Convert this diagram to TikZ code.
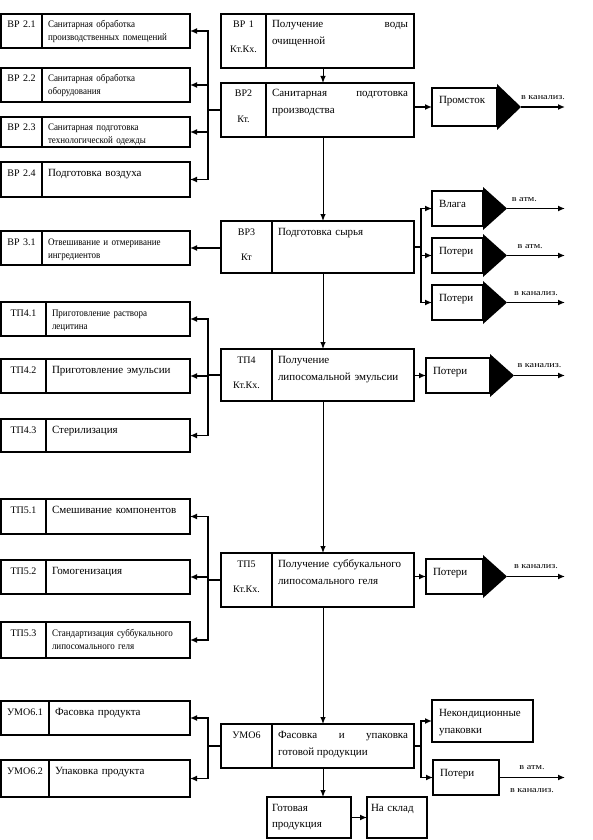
\documentclass[tikz,border=0pt]{standalone}
\usepackage{fontspec}
\setmainfont{Liberation Serif}
\newfontfamily\narrowserif[FakeStretch=0.9]{Liberation Serif}
\newfontfamily\wideserif[FakeStretch=1.2]{Liberation Serif}
\usetikzlibrary{arrows.meta, positioning}

\begin{document}
\begin{tikzpicture}[
    x=1pt, y=-1pt,
    box/.style={
      rectangle,
      draw=black,
      line width=1.6pt,
      outer sep=0pt,
      anchor=north west,
      inner ysep=3pt,
      text height=11pt,
      align=left
    },
    idbox/.style={box, inner xsep=3pt, align=center, font=\fontsize{10}{13}\selectfont},
    smallbox/.style={box, inner xsep=6pt, font=\narrowserif\fontsize{10}{13}\selectfont},
    leftbox/.style={box, inner xsep=6pt, font=\fontsize{11}{13}\selectfont},
    mainbox/.style={box, inner xsep=6pt, align=justify, font=\fontsize{11}{17}\selectfont},
    outbox/.style={box, inner xsep=7pt, text height=13pt, font=\fontsize{11}{17}\selectfont},
    link/.style={line width=1.4pt},
    flow/.style={line width=1.4pt, -{Latex[length=7pt,width=6pt]}},
    spineflow/.style={line width=1pt, -{Latex[length=7pt,width=5.5pt]}},
    where/.style={font=\wideserif\fontsize{8.5}{10}\selectfont, inner sep=1pt}
  ]
    \useasboundingbox (0,0) rectangle (592,840);

    % Left column, ВР 2
    \node[idbox, text width=35pt, text depth=17pt] (vr21) at (1,14) {ВР 2.1};
    \node[smallbox, text width=136pt, text depth=17pt, right=0pt of vr21] (vr21t) {Санитарная обработка\\производственных помещений};
    \node[idbox, text width=35pt, text depth=17pt] (vr22) at (1,68) {ВР 2.2};
    \node[smallbox, text width=136pt, text depth=17pt, right=0pt of vr22] (vr22t) {Санитарная обработка\\оборудования};
    \node[idbox, text width=35pt, text depth=13pt] (vr23) at (1,117) {ВР 2.3};
    \node[smallbox, text width=136pt, text depth=13pt, right=0pt of vr23] (vr23t) {Санитарная подготовка\\технологической одежды};
    \node[idbox, text width=35pt, text depth=18pt] (vr24) at (1,162) {ВР 2.4};
    \node[leftbox, text width=136pt, text depth=18pt, right=0pt of vr24] (vr24t) {Подготовка воздуха};

    % Left column, ВР 3
    \node[idbox, text width=35pt, text depth=17pt] (vr31) at (1,231) {ВР 3.1};
    \node[smallbox, text width=136pt, text depth=17pt, right=0pt of vr31] (vr31t) {Отвешивание и отмеривание\\ингредиентов};

    % Left column, ТП4
    \node[idbox, text width=39pt, text depth=17pt] (tp41) at (1,302) {ТП4.1};
    \node[smallbox, text width=132pt, text depth=17pt, right=0pt of tp41] (tp41t) {Приготовление раствора\\лецитина};
    \node[idbox, text width=39pt, text depth=17pt] (tp42) at (1,359) {ТП4.2};
    \node[leftbox, text width=132pt, text depth=17pt, right=0pt of tp42] (tp42t) {Приготовление эмульсии};
    \node[idbox, text width=39pt, text depth=16pt] (tp43) at (1,419) {ТП4.3};
    \node[leftbox, text width=132pt, text depth=16pt, right=0pt of tp43] (tp43t) {Стерилизация};

    % Left column, ТП5
    \node[idbox, text width=39pt, text depth=18pt] (tp51) at (1,499) {ТП5.1};
    \node[leftbox, text width=132pt, text depth=18pt, right=0pt of tp51] (tp51t) {Смешивание компонентов};
    \node[idbox, text width=39pt, text depth=17pt] (tp52) at (1,560) {ТП5.2};
    \node[leftbox, text width=132pt, text depth=17pt, right=0pt of tp52] (tp52t) {Гомогенизация};
    \node[idbox, text width=39pt, text depth=19pt] (tp53) at (1,622) {ТП5.3};
    \node[smallbox, text width=132pt, text depth=19pt, right=0pt of tp53] (tp53t) {Стандартизация суббукального\\липосомального геля};

    % Left column, УМО6
    \node[idbox, text width=42pt, text depth=17pt] (umo61) at (1,701) {УМО6.1};
    \node[leftbox, text width=129pt, text depth=17pt, right=0pt of umo61] (umo61t) {Фасовка продукта};
    \node[idbox, text width=42pt, text depth=20pt] (umo62) at (1,760) {УМО6.2};
    \node[leftbox, text width=129pt, text depth=20pt, right=0pt of umo62] (umo62t) {Упаковка продукта};

    % Main column
    \node[idbox, text width=39pt, text depth=37pt] (vr1) at (221,14) {ВР 1\\[12pt]Кт.Кх.};
    \node[mainbox, text width=136pt, text depth=37pt, right=0pt of vr1] (vr1t) {Получение воды\linebreak очищенной};
    \node[idbox, text width=39pt, text depth=37pt] (vr2) at (221,83) {ВР2\\[12pt]Кт.};
    \node[mainbox, text width=136pt, text depth=37pt, right=0pt of vr2] (vr2t) {Санитарная подготовка\linebreak производства};
    \node[idbox, text width=45pt, text depth=35pt] (vr3) at (221,221) {ВР3\\[12pt]Кт};
    \node[mainbox, align=left, text width=130pt, text depth=35pt, right=0pt of vr3] (vr3t) {Подготовка сырья};
    \node[idbox, text width=45pt, text depth=35pt] (tp4) at (221,349) {ТП4\\[12pt]Кт.Кх.};
    \node[mainbox, align=left, text width=130pt, text depth=35pt, right=0pt of tp4] (tp4t) {Получение\\липосомальной эмульсии};
    \node[idbox, text width=45pt, text depth=37pt] (tp5) at (221,553) {ТП5\\[12pt]Кт.Кх.};
    \node[mainbox, align=left, text width=130pt, text depth=37pt, right=0pt of tp5] (tp5t) {Получение суббукального\\липосомального геля};
    \node[idbox, text width=45pt, text depth=27pt] (umo6) at (221,724) {УМО6};
    \node[mainbox, text width=130pt, text depth=27pt, right=0pt of umo6] (umo6t) {Фасовка и упаковка\linebreak готовой продукции};

    % Bottom row
    \node[box, inner xsep=5pt, text width=74pt, text depth=24pt, font=\fontsize{11}{16}\selectfont] (gotov) at (267,797) {Готовая\\продукция};
    \node[box, inner xsep=4pt, text width=52pt, text depth=24pt, font=\fontsize{11}{16}\selectfont, right=16pt of gotov] (sklad) {На склад};

    % Right column
    \node[outbox, text width=51pt, text depth=19pt] (prom) at (432,88) {Промсток};
    \node[outbox, text width=37pt, text depth=16pt] (vlaga) at (432,191) {Влага};
    \node[outbox, text width=37pt, text depth=16pt] (pot1) at (432,238) {Потери};
    \node[outbox, text width=37pt, text depth=16pt] (pot2) at (432,285) {Потери};
    \node[outbox, text width=50pt, text depth=16pt] (pot3) at (426,358) {Потери};
    \node[outbox, text width=43pt, text depth=16pt] (pot4) at (426,559) {Потери};
    \node[outbox, text width=87pt, text depth=23pt] (nekond) at (432,700) {Некондиционные\\упаковки};
    \node[outbox, text width=52pt, text depth=16pt] (pot5) at (433,760) {Потери};

    \coordinate (lbus) at (208,0);
    \coordinate (rbus) at (421,0);
    \coordinate (spine) at (323,0);
    \coordinate (outend) at (565,0);

    % Connections: main line
    \draw[spineflow] (vr1t.south -| spine) -- (vr2t.north -| spine);
    \draw[spineflow] (vr2t.south -| spine) -- (vr3t.north -| spine);
    \draw[spineflow] (vr3t.south -| spine) -- (tp4t.north -| spine);
    \draw[spineflow] (tp4t.south -| spine) -- (tp5t.north -| spine);
    \draw[spineflow] (tp5t.south -| spine) -- (umo6t.north -| spine);
    \draw[spineflow] (umo6t.south -| spine) -- (gotov.north -| spine);
    \draw[flow] (gotov) -- (sklad);

    % Connections: left
    \draw[link] (vr2.west) -- (vr2.west -| lbus);
    \foreach \c in {vr21t, vr22t, vr23t, vr24t}
      \draw[flow] (vr2.west -| lbus) |- (\c.east);
    \draw[flow] (vr31t.east -| vr3.west) -- (vr31t.east);
    \draw[link] (tp4.west) -- (tp4.west -| lbus);
    \foreach \c in {tp41t, tp42t, tp43t}
      \draw[flow] (tp4.west -| lbus) |- (\c.east);
    \draw[link] (tp5.west) -- (tp5.west -| lbus);
    \foreach \c in {tp51t, tp52t, tp53t}
      \draw[flow] (tp5.west -| lbus) |- (\c.east);
    \draw[link] (umo6.west) -- (umo6.west -| lbus);
    \foreach \c in {umo61t, umo62t}
      \draw[flow] (umo6.west -| lbus) |- (\c.east);

    % Connections: right
    \draw[flow] (prom.west -| vr2t.east) -- (prom.west);
    \draw[link] (vr3t.east) -- (vr3t.east -| rbus);
    \foreach \c in {vlaga, pot1, pot2}
      \draw[flow] (vr3t.east -| rbus) |- (\c.west);
    \draw[flow] (pot3.west -| tp4t.east) -- (pot3.west);
    \draw[flow] (pot4.west -| tp5t.east) -- (pot4.west);
    \draw[link] (umo6t.east) -- (umo6t.east -| rbus);
    \foreach \c in {nekond, pot5}
      \draw[flow] (umo6t.east -| rbus) |- (\c.west);

    % Outlets
    \foreach \c in {prom, vlaga, pot1, pot2, pot3, pot4}
      \fill ([yshift=4pt]\c.north east) -- ([yshift=-4pt]\c.south east) -- ([xshift=24pt]\c.east) -- cycle;
    \draw[flow] ([xshift=24pt]prom.east) -- (prom.east -| outend) node[where, midway, above=6pt] {в канализ.};
    \draw[flow] ([xshift=24pt]vlaga.east) -- (vlaga.east -| outend) node[where, pos=0.3, above=5pt] {в атм.};
    \draw[flow] ([xshift=24pt]pot1.east) -- (pot1.east -| outend) node[where, pos=0.4, above=5pt] {в атм.};
    \draw[flow] ([xshift=24pt]pot2.east) -- (pot2.east -| outend) node[where, midway, above=5pt] {в канализ.};
    \draw[flow] ([xshift=24pt]pot3.east) -- (pot3.east -| outend) node[where, midway, above=6pt] {в канализ.};
    \draw[flow] ([xshift=24pt]pot4.east) -- (pot4.east -| outend) node[where, midway, above=6pt] {в канализ.};
    \draw[flow] (pot5.east) -- (pot5.east -| outend) node[where, midway, above=6pt] {в атм.} node[where, midway, below=9pt] {в канализ.};

\end{tikzpicture}
\end{document}
